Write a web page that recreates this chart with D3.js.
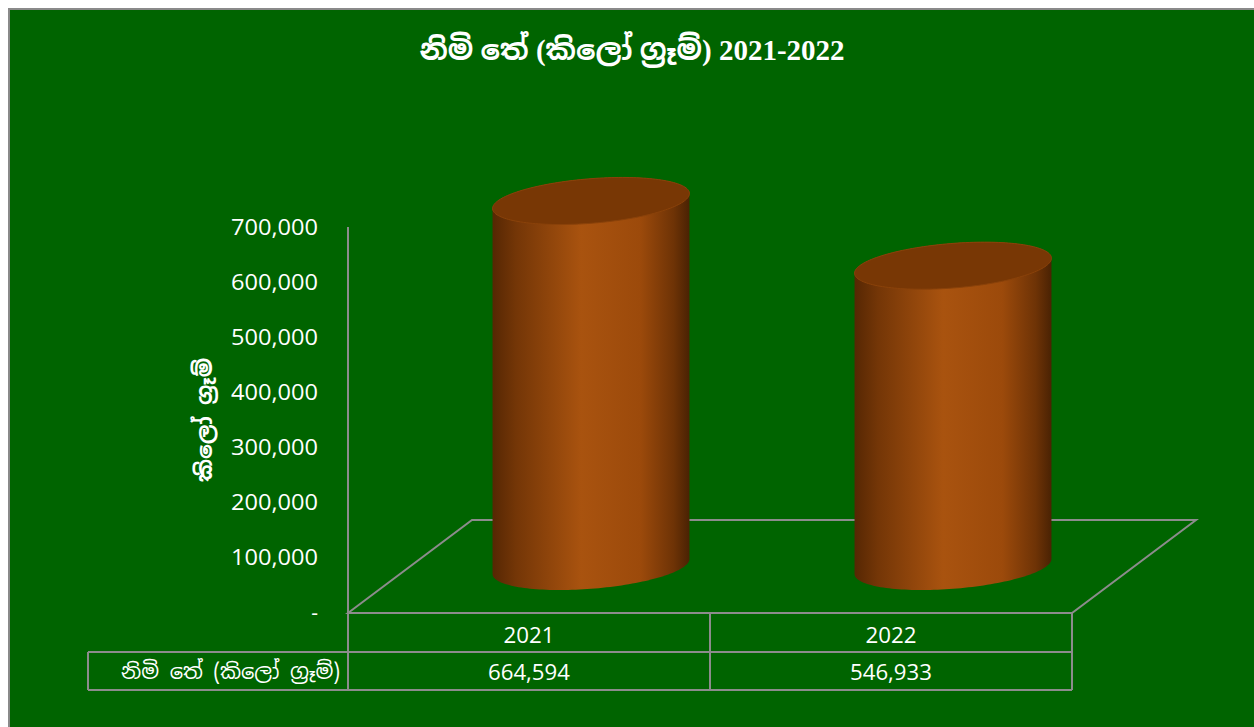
<!DOCTYPE html>
<html><head><meta charset="utf-8">
<script src="https://cdn.jsdelivr.net/npm/d3@7"></script>
<style>body{margin:0;background:#fff}svg{display:block}</style>
</head><body>
<script>
const categories = ["2021", "2022"];
const values = [664594, 546933];
const tickValues = [0, 100000, 200000, 300000, 400000, 500000, 600000, 700000];
const seriesName = "නිමි තේ (කිලෝ ග්‍රෑම්)";
const titleText = "නිමි තේ (කිලෝ ග්‍රෑම්) 2021-2022";
const yTitle = "කිලෝ ග්‍රෑම්";

const W = 1254, H = 727;
const svg = d3.select("body").append("svg").attr("width", W).attr("height", H);
svg.append("rect").attr("x", 9).attr("y", 9).attr("width", W + 20).attr("height", H + 20)
  .attr("fill", "#006400").attr("stroke", "#8a8a8a").attr("stroke-width", 2);

const x0 = 348, x1 = 1072, yFloor = 613;
const depth = {dx: 124, dy: -93};
const x = d3.scaleBand().domain(categories).range([x0, x1]).padding(0);
const y = d3.scaleLinear().domain([0, 700000]).range([yFloor, 228]);

const grey = "#8c8c8c";
const sinhala = "'Noto Sans Sinhala','Iskoola Pota','Noto Serif Sinhala',serif";

// title
svg.append("text").attr("x", 632).attr("y", 60).attr("text-anchor", "middle")
  .attr("fill", "#fff").attr("font-weight", "bold").attr("font-size", 29)
  .attr("font-family", "'Liberation Serif'," + sinhala).text(titleText);

// floor
const fl = d3.path();
fl.moveTo(x0, yFloor); fl.lineTo(x0 + depth.dx, yFloor + depth.dy);
fl.lineTo(x1 + depth.dx, yFloor + depth.dy); fl.lineTo(x1, yFloor); fl.closePath();
svg.append("path").attr("d", fl.toString()).attr("fill", "none").attr("stroke", grey).attr("stroke-width", 2);

// axis line
svg.append("line").attr("x1", x0).attr("x2", x0).attr("y1", y(700000) - 1).attr("y2", yFloor)
  .attr("stroke", grey).attr("stroke-width", 2);

// tick labels
const fmt = d3.format(",");
svg.append("g").selectAll("text").data(tickValues).join("text")
  .attr("x", 318).attr("y", d => y(d)).attr("dy", "0.35em").attr("text-anchor", "end")
  .attr("fill", "#fff").attr("font-size", 21).attr("font-family", "'Open Sans','Noto Sans',sans-serif")
  .attr("textLength", d => d === 0 ? null : 87).attr("lengthAdjust", "spacingAndGlyphs")
  .text(d => d === 0 ? "-" : fmt(d));

// y title
svg.append("text").attr("transform", "translate(212,420) rotate(-90)").attr("text-anchor", "middle")
  .attr("fill", "#fff").attr("font-weight", "bold").attr("font-size", 22)
  .attr("font-family", sinhala).text(yTitle);

// cylinders
const defs = svg.append("defs");
const g = defs.append("linearGradient").attr("id", "side").attr("x1", 0).attr("x2", 1).attr("y1", 0).attr("y2", 0);
[[0, "#562703"], [0.12, "#743607"], [0.45, "#a9530f"], [0.75, "#9c4a0b"], [0.92, "#6e3306"], [1, "#4a2203"]]
  .forEach(s => g.append("stop").attr("offset", s[0]).attr("stop-color", s[1]));

const halfW = x.bandwidth() * 0.272;
const k = 0.253;
const ux = Math.sqrt(halfW * halfW - (depth.dx * k) ** 2);
const wx = depth.dx * k, wy = depth.dy * k;
function pt(cx, cy, t) { return [cx + ux * Math.cos(t) + wx * Math.sin(t), cy + wy * Math.sin(t)]; }
const tEdge = Math.atan2(wx, ux);
const cyl = svg.append("g");
categories.forEach((c, i) => {
  const cx = x(c) + x.bandwidth() / 2 + depth.dx / 2;
  const cb = yFloor + depth.dy / 2;
  const ct = cb - (yFloor - y(values[i]));
  const p = d3.path();
  const N = 80;
  let s = pt(cx, ct, tEdge + Math.PI); p.moveTo(s[0], s[1]);
  s = pt(cx, cb, tEdge + Math.PI); p.lineTo(s[0], s[1]);
  for (let j = 1; j <= N; j++) { const t = tEdge + Math.PI + Math.PI * j / N; const q = pt(cx, cb, t); p.lineTo(q[0], q[1]); }
  s = pt(cx, ct, tEdge); p.lineTo(s[0], s[1]);
  for (let j = 1; j <= N; j++) { const t = tEdge + Math.PI * j / N; const q = pt(cx, ct, t); p.lineTo(q[0], q[1]); }
  p.closePath();
  cyl.append("path").attr("d", p.toString()).attr("fill", "url(#side)");
  const e = d3.path();
  for (let j = 0; j <= 2 * N; j++) { const q = pt(cx, ct, Math.PI * j / N); j ? e.lineTo(q[0], q[1]) : e.moveTo(q[0], q[1]); }
  e.closePath();
  cyl.append("path").attr("d", e.toString()).attr("fill", "#783705").attr("stroke", "#8a420a").attr("stroke-width", 1);
});

// data table
const rowTop = yFloor, rowMid = 652, rowBot = 690, labelLeft = 88;
const tg = svg.append("g").attr("stroke", grey).attr("stroke-width", 2);
[x0, ...categories.map(c => x(c) + x.bandwidth())].forEach(xx =>
  tg.append("line").attr("x1", xx).attr("x2", xx).attr("y1", rowTop).attr("y2", rowBot));
tg.append("line").attr("x1", labelLeft).attr("x2", labelLeft).attr("y1", rowMid).attr("y2", rowBot);
[rowMid, rowBot].forEach(yy => tg.append("line").attr("x1", labelLeft).attr("x2", x1).attr("y1", yy).attr("y2", yy));

const tf = "'Open Sans','Noto Sans',sans-serif";
svg.append("g").selectAll("text").data(categories).join("text")
  .attr("x", d => x(d) + x.bandwidth() / 2).attr("y", (rowTop + rowMid) / 2 + 3).attr("dy", "0.35em")
  .attr("text-anchor", "middle").attr("fill", "#fff").attr("font-size", 22.5).attr("font-family", tf)
  .attr("textLength", 51).attr("lengthAdjust", "spacingAndGlyphs").text(d => d);
svg.append("g").selectAll("text").data(values).join("text")
  .attr("x", (d, i) => x(categories[i]) + x.bandwidth() / 2).attr("y", (rowMid + rowBot) / 2 + 1).attr("dy", "0.35em")
  .attr("text-anchor", "middle").attr("fill", "#fff").attr("font-size", 22.5).attr("font-family", tf)
  .attr("textLength", 82).attr("lengthAdjust", "spacingAndGlyphs").text(d => fmt(d));
svg.append("text").attr("x", 340).attr("y", (rowMid + rowBot) / 2 + 1).attr("dy", "0.35em")
  .attr("text-anchor", "end").attr("fill", "#fff").attr("font-size", 21).attr("font-family", sinhala).text(seriesName);
</script>
</body></html>
